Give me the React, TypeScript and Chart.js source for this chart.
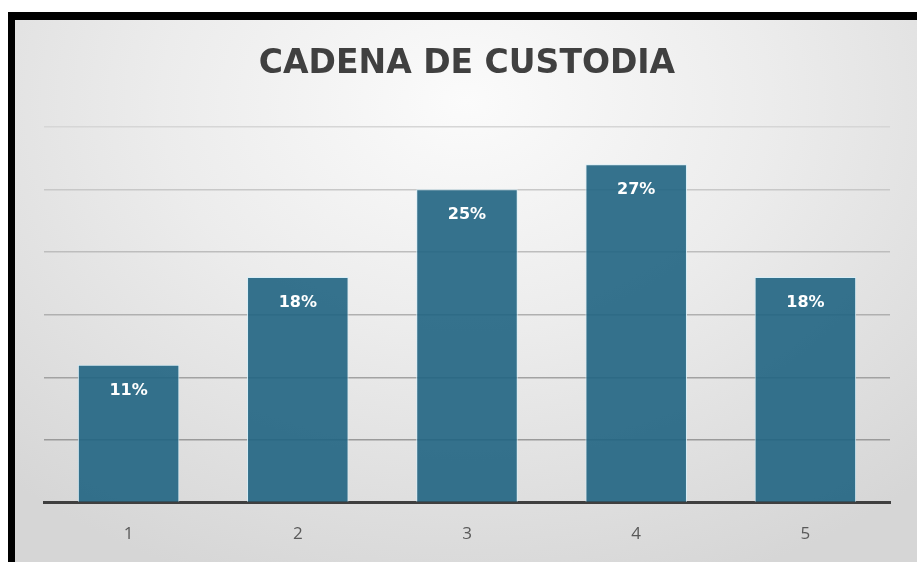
import React, { useEffect, useRef } from "react";
import { Chart, registerables } from "chart.js";

Chart.register(...registerables);

const categories = ["1", "2", "3", "4", "5"];
const values = [11, 18, 25, 27, 18];
const titleText = "CADENA DE CUSTODIA";

const valueLabels = {
  id: "valueLabels",
  afterDatasetsDraw(chart: any) {
    const ctx = chart.ctx;
    const meta = chart.getDatasetMeta(0);
    ctx.save();
    ctx.fillStyle = "#ffffff";
    ctx.font = "bold 16px 'DejaVu Sans', sans-serif";
    ctx.textAlign = "center";
    ctx.textBaseline = "middle";
    meta.data.forEach((bar: any, i: number) => {
      ctx.fillText(values[i] + "%", bar.x, bar.y + 26);
    });
    ctx.restore();
  },
};

export default function App() {
  const ref = useRef<HTMLCanvasElement>(null);
  useEffect(() => {
    if (!ref.current) return;
    const chart = new Chart(ref.current, {
      type: "bar",
      data: {
        labels: categories,
        datasets: [
          {
            data: values,
            backgroundColor: "rgba(32,100,130,0.9)",
            borderColor: "rgba(215,238,248,0.95)",
            borderWidth: 1,
            barPercentage: 1,
            categoryPercentage: 0.6,
          },
        ],
      },
      options: {
        animation: false,
        responsive: false,
        maintainAspectRatio: false,
        layout: { padding: { left: 29, right: 27, top: 0, bottom: 19 } },
        plugins: {
          legend: { display: false },
          tooltip: { enabled: false },
          title: {
            display: true,
            text: titleText,
            color: "#404040",
            font: { family: "'DejaVu Sans', sans-serif", size: 33, weight: "bold" },
            padding: { top: 25, bottom: 42 },
          },
        },
        scales: {
          x: {
            grid: { display: false, drawTicks: false },
            border: { display: true, color: "#3f3f3f", width: 3 },
            ticks: {
              color: "#595959",
              font: { family: "'Open Sans', sans-serif", size: 17 },
              padding: 21,
            },
          },
          y: {
            min: 0,
            max: 30,
            ticks: { display: false, stepSize: 5 },
            border: { display: false },
            grid: {
              drawTicks: false,
              lineWidth: 1.5,
              color: (c: any) => {
                const v = c.tick ? c.tick.value : 0;
                if (v === 0) return "rgba(0,0,0,0)";
                const shades: Record<number, string> = {
                  5: "#9a9a9a",
                  10: "#a2a2a2",
                  15: "#b0b0b0",
                  20: "#bdbdbd",
                  25: "#c8c8c8",
                  30: "#d6d6d6",
                };
                return shades[v] || "#bbbbbb";
              },
            },
          },
        },
      },
      plugins: [valueLabels],
    });
    return () => chart.destroy();
  }, []);

  return (
    <div
      style={{
        position: "fixed",
        left: 8,
        top: 12,
        width: 909,
        height: 550,
        overflow: "hidden",
        borderLeft: "7px solid #000",
        borderTop: "8px solid #000",
        boxSizing: "border-box",
        background:
          "radial-gradient(ellipse 75% 95% at 50% 15%, #fbfbfb 0%, #ececec 45%, #d6d6d6 100%)",
      }}
    >
      <canvas ref={ref} width={902} height={564} style={{ display: "block" }} />
    </div>
  );
}
